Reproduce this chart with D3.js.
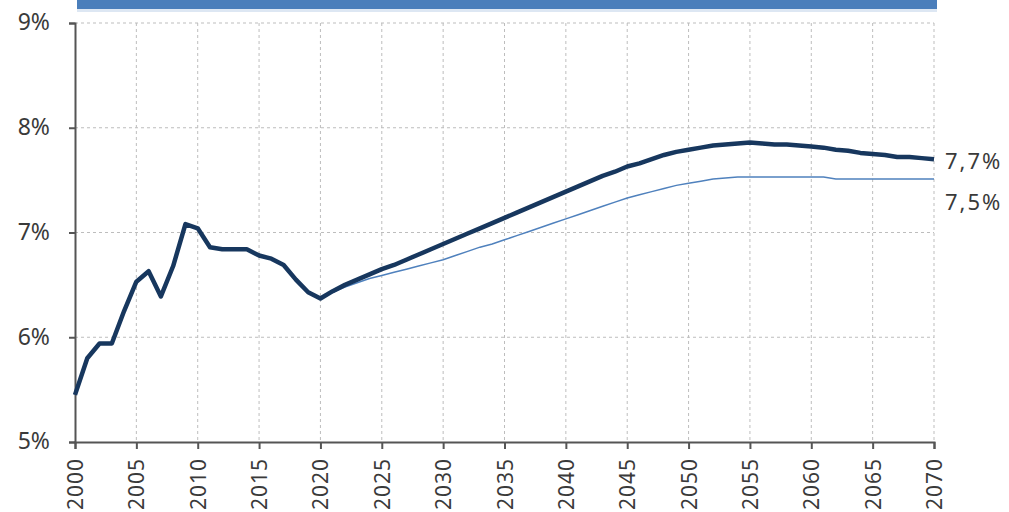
<!DOCTYPE html>
<html><head><meta charset="utf-8">
<script src="https://cdn.jsdelivr.net/npm/d3@7"></script>
<style>
html,body{margin:0;padding:0;background:#fff;}
svg{display:block;}
text{font-family:"Noto Sans","DejaVu Sans",sans-serif;fill:#3a3a3a;}
</style></head><body>
<svg id="c" width="1009" height="512"></svg>
<script>
const years = d3.range(2000, 2071);
const baseline = [5.45,5.80,5.94,5.94,6.25,6.53,6.63,6.39,6.68,7.08,
  7.04,6.86,6.84,6.84,6.84,6.78,6.75,6.69,6.55,6.43,
  6.37,6.44,6.50,6.55,6.60,6.65,6.69,6.74,6.79,6.84,
  6.89,6.94,6.99,7.04,7.09,7.14,7.19,7.24,7.29,7.34,
  7.39,7.44,7.49,7.54,7.58,7.63,7.66,7.70,7.74,7.77,
  7.79,7.81,7.83,7.84,7.85,7.86,7.85,7.84,7.84,7.83,
  7.82,7.81,7.79,7.78,7.76,7.75,7.74,7.72,7.72,7.71,7.70];
const altYears = d3.range(2020, 2071);
const alternative = [6.37,6.43,6.48,6.52,6.56,6.59,6.62,6.65,6.68,6.71,
  6.74,6.78,6.82,6.86,6.89,6.93,6.97,7.01,7.05,7.09,
  7.13,7.17,7.21,7.25,7.29,7.33,7.36,7.39,7.42,7.45,
  7.47,7.49,7.51,7.52,7.53,7.53,7.53,7.53,7.53,7.53,
  7.53,7.53,7.51,7.51,7.51,7.51,7.51,7.51,7.51,7.51,7.51];
const yTicks = [5,6,7,8,9];
const xTicks = d3.range(2000, 2071, 5);
const endLabels = ["7,7%", "7,5%"];

const svg = d3.select("#c");
const x = d3.scaleLinear().domain([2000, 2070]).range([75, 934]);
const y = d3.scaleLinear().domain([5, 9]).range([442, 23]);

// banner
svg.append("rect").attr("x",77).attr("y",9).attr("width",860).attr("height",3).attr("fill","#dde7f3");
svg.append("rect").attr("x",77).attr("y",0).attr("width",860).attr("height",9).attr("fill","#4a7ebb");

// grid
const g = svg.append("g");
g.selectAll(".hg").data(yTicks.filter(d=>d>5)).join("line")
  .attr("x1",75).attr("x2",934).attr("y1",d=>y(d)).attr("y2",d=>y(d))
  .attr("stroke","#bdbdbd").attr("stroke-dasharray","3,3").attr("stroke-width",1);
g.selectAll(".vg").data(xTicks.filter(d=>d>2000)).join("line")
  .attr("x1",d=>x(d)).attr("x2",d=>x(d)).attr("y1",23).attr("y2",442)
  .attr("stroke","#bdbdbd").attr("stroke-dasharray","3,3").attr("stroke-width",1);

// axes
const yAxis = d3.axisLeft(y).tickValues(yTicks).tickSize(6).tickPadding(19).tickFormat(d=>d+"%");
const ya = svg.append("g").attr("transform","translate(75,0)").call(yAxis);
ya.select(".domain").attr("stroke","#555").attr("stroke-width",2);
ya.selectAll(".tick line").attr("stroke","#555").attr("stroke-width",2);
ya.selectAll("text").style("font-size","23px").attr("fill","#444").attr("dy","0.3em");

const xAxis = d3.axisBottom(x).tickValues(xTicks).tickSize(7).tickFormat(d=>String(d));
const xa = svg.append("g").attr("transform","translate(0,442)").call(xAxis);
xa.select(".domain").attr("stroke","#555").attr("stroke-width",2);
xa.selectAll(".tick line").attr("stroke","#555").attr("stroke-width",2);
xa.selectAll("text").style("font-size","21px").attr("fill","#444")
  .attr("transform","rotate(-90)").attr("text-anchor","end")
  .attr("x",-16).attr("y",0).attr("dy","0.36em").style("letter-spacing","1px");

// lines
const line = d3.line().x(d=>x(d[0])).y(d=>y(d[1]));
svg.append("path").datum(altYears.map((yr,i)=>[yr,alternative[i]]))
  .attr("d",line).attr("fill","none").attr("stroke","#4f81bd").attr("stroke-width",1.5);
svg.append("path").datum(years.map((yr,i)=>[yr,baseline[i]]))
  .attr("d",line).attr("fill","none").attr("stroke","#17375e").attr("stroke-width",4.5)
  .attr("stroke-linejoin","round");

// end labels
svg.append("text").attr("x",945).attr("y",y(baseline[baseline.length-1])+2).attr("dy","0.36em")
  .attr("fill","#444").style("font-size","22px").style("letter-spacing","2px").text(endLabels[0]);
svg.append("text").attr("x",945).attr("y",y(alternative[alternative.length-1])+23).attr("dy","0.36em")
  .attr("fill","#444").style("font-size","22px").style("letter-spacing","2px").text(endLabels[1]);
</script></body></html>
